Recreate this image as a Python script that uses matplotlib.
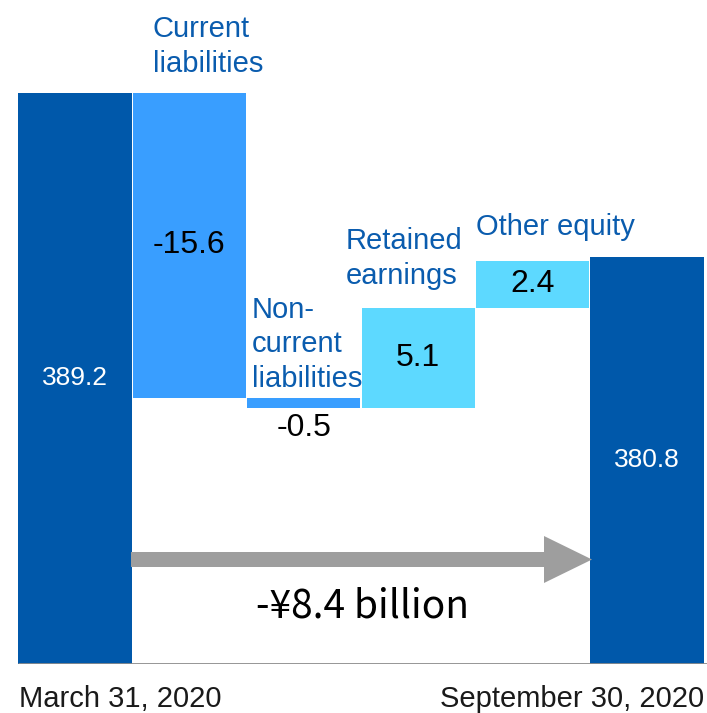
import matplotlib
matplotlib.use("Agg")
import matplotlib.pyplot as plt
from matplotlib.patches import Polygon
from matplotlib.transforms import Affine2D

# Equity bridge, ¥ billion
start_label = "March 31, 2020"
end_label = "September 30, 2020"
start_value = 389.2
end_value = 380.8
step_names = ["Current\nliabilities", "Non-\ncurrent\nliabilities", "Retained\nearnings", "Other equity"]
step_values = [-15.6, -0.5, 5.1, 2.4]
total_change_text = "-¥8.4 billion"

DARK = "#0058AA"
MID = "#399EFF"
LIGHT = "#5DD9FF"
TEXT_BLUE = "#0A5CAE"

W, H = 707, 713
fig = plt.figure(figsize=(W / 100, H / 100), dpi=100)
# pixel coordinates (origin top-left) for free-standing annotations
px = Affine2D().scale(1 / W, -1 / H).translate(0, 1) + fig.transFigure

y_floor = 360.0
ax = fig.add_axes([0, (H - 663.5) / H, 1, 663.5 / H])
ax.set_ylim(y_floor, y_floor + 663.5 / 19.54)
ax.set_xlim(-75 / 114.4, (W - 75) / 114.4)
ax.axis("off")

bw = 0.99
font = "Liberation Sans"

# opening and closing totals
ax.bar(0, start_value - y_floor, bottom=y_floor, width=bw, color=DARK, zorder=2)
ax.bar(5, end_value - y_floor, bottom=y_floor, width=bw, color=DARK, zorder=2)
ax.text(0, (start_value + y_floor) / 2, f"{start_value:.1f}", color="white",
        ha="center", va="center", fontsize=19, family=font)
ax.text(5, (end_value + y_floor) / 2, f"{end_value:.1f}", color="white",
        ha="center", va="center", fontsize=19, family=font)

# floating steps
level = start_value
colors = [MID, MID, LIGHT, LIGHT]
for i, (v, c) in enumerate(zip(step_values, colors), start=1):
    new = level + v
    lo, hi = min(level, new), max(level, new)
    ax.bar(i, hi - lo, bottom=lo, width=bw, color=c, zorder=2)
    if hi - lo > 1.5:
        ax.text(i, (lo + hi) / 2, f"{v:.1f}", ha="center", va="center",
                fontsize=23, family=font, color="black")
    else:
        ax.text(i, lo - 1.05, f"{v:.1f}", ha="center", va="center",
                fontsize=23, family=font, color="black")
    level = new

# baseline
ax.plot([18, W], [663.5, 663.5], transform=px, color="#8C8C8C", lw=2, zorder=3,
        solid_capstyle="butt")

# step names (left-aligned, one line at a time)
name_pos = [(153, 37), (252, 318), (346, 249), (476, 235)]
for name, (x0, y0) in zip(step_names, name_pos):
    for k, line in enumerate(name.split("\n")):
        fig.text(x0, y0 + k * 34.5, line, transform=px, ha="left", va="baseline",
                 fontsize=21, family=font, color=TEXT_BLUE)

# change arrow
shaft_y0, shaft_y1 = 552, 567
arrow = [(131, shaft_y0), (544, shaft_y0), (544, 536), (592, 559.5),
         (544, 583), (544, shaft_y1), (131, shaft_y1)]
fig.patches.append(Polygon(arrow, closed=True, transform=px, facecolor="#9E9E9E",
                           edgecolor="none", zorder=4))
fig.text(362, 618, total_change_text, transform=px, ha="center", va="baseline",
         fontsize=28, family=["Noto Sans CJK JP", "DejaVu Sans"], color="black")

# dates
fig.text(120, 707, start_label, transform=px, ha="center", va="baseline",
         fontsize=21, family=font, color="#1A1A1A")
fig.text(704, 707, end_label, transform=px, ha="right", va="baseline",
         fontsize=21, family=font, color="#1A1A1A")

fig.savefig("out.png", dpi=100)
